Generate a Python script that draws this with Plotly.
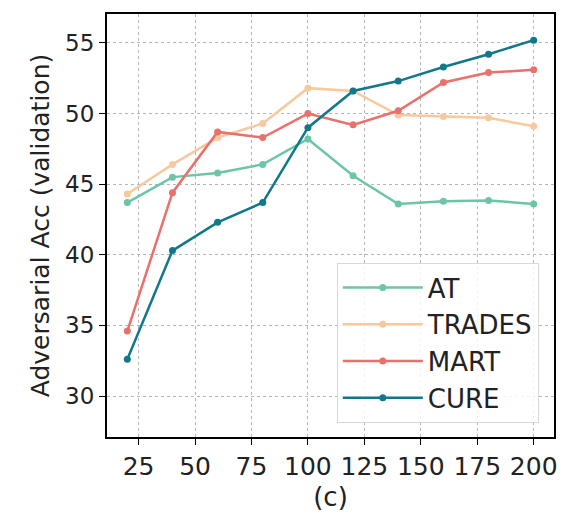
import plotly.graph_objects as go

epochs = [20, 40, 60, 80, 100, 120, 140, 160, 180, 200]
at = [43.7, 45.5, 45.8, 46.4, 48.2, 45.6, 43.6, 43.8, 43.85, 43.6]
trades = [44.3, 46.4, 48.3, 49.3, 51.8, 51.6, 49.9, 49.8, 49.7, 49.1]
mart = [34.6, 44.4, 48.7, 48.3, 50.0, 49.2, 50.2, 52.2, 52.9, 53.1]
cure = [32.6, 40.3, 42.3, 43.7, 49.0, 51.6, 52.3, 53.3, 54.2, 55.2]

series = [
    ("AT", at, "#6cc5a6"),
    ("TRADES", trades, "#f9c89c"),
    ("MART", mart, "#e9716b"),
    ("CURE", cure, "#11788a"),
]

xticks = [25, 50, 75, 100, 125, 150, 175, 200]
yticks = [30, 35, 40, 45, 50, 55]

fig = go.Figure()
for name, vals, col in series:
    fig.add_trace(go.Scatter(
        x=epochs, y=vals, name=name, mode="lines+markers",
        line=dict(color=col, width=2.5),
        marker=dict(color=col, size=7, symbol="circle"),
    ))

font_family = "DejaVu Sans"
# page body has an 8px default margin, so margins are shifted to compensate
fig.update_layout(
    width=577, height=519,
    margin=dict(l=99, r=31, t=6, b=90),
    paper_bgcolor="white", plot_bgcolor="white",
    font=dict(family=font_family, color="#222222"),
    showlegend=True,
    legend=dict(
        x=0.966, xanchor="right", y=0.033, yanchor="bottom",
        bgcolor="rgba(255,255,255,0.85)", bordercolor="#d8d8d8", borderwidth=1,
        font=dict(size=26, family=font_family, color="#222222"),
        tracegroupgap=0, itemwidth=80,
    ),
)
fig.update_xaxes(
    range=[11, 209], tickvals=xticks, ticktext=[str(v) for v in xticks],
    showline=True, linecolor="black", linewidth=2, mirror=True,
    ticks="outside", ticklen=6, tickcolor="black",
    showgrid=True, gridcolor="#b5b5b5", griddash="dot", gridwidth=1,
    zeroline=False, automargin=False,
    tickfont=dict(size=25, family=font_family, color="#222222"),
    title=dict(text="(c)", font=dict(size=26, family=font_family, color="#222222"), standoff=8),
)
fig.update_yaxes(
    range=[27.1, 57.05], tickvals=yticks, ticktext=[str(v) for v in yticks],
    showline=True, linecolor="black", linewidth=2, mirror=True,
    ticks="outside", ticklen=6, tickcolor="black",
    showgrid=True, gridcolor="#b5b5b5", griddash="dot", gridwidth=1,
    zeroline=False, automargin=False,
    tickfont=dict(size=23, family=font_family, color="#222222"),
    title=dict(text="Adversarial Acc (validation)", font=dict(size=25, family=font_family, color="#222222"), standoff=8),
)

fig.write_html("out.html")
